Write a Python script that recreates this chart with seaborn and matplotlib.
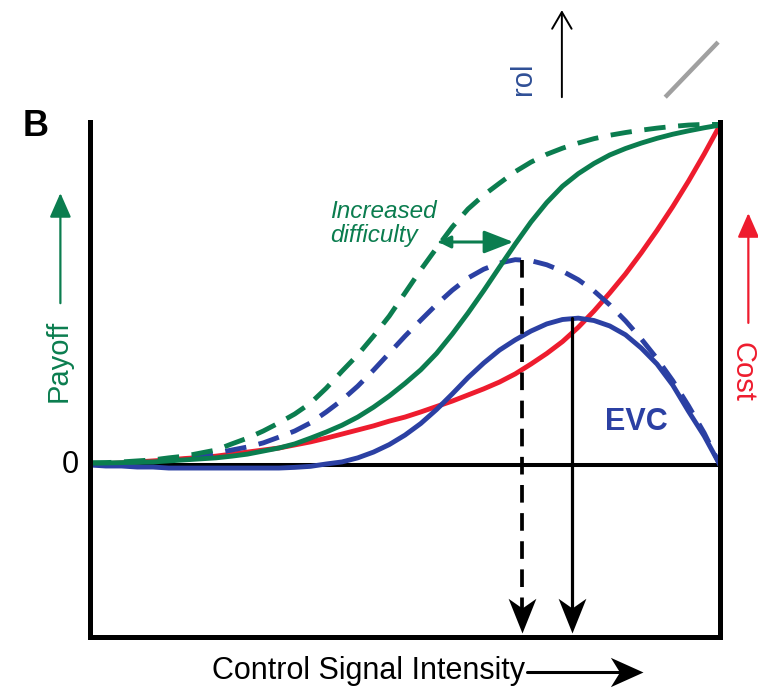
import numpy as np
import pandas as pd
import matplotlib
matplotlib.use("Agg")
import matplotlib.pyplot as plt
import seaborn as sns
from matplotlib.path import Path

# ---------------- data ----------------
control = [0.000, 0.025, 0.050, 0.075, 0.100, 0.125, 0.150, 0.175, 0.200, 0.225,
           0.250, 0.275, 0.300, 0.325, 0.350, 0.375, 0.400, 0.425, 0.450, 0.475,
           0.500, 0.525, 0.550, 0.575, 0.600, 0.625, 0.650, 0.675, 0.700, 0.725,
           0.750, 0.775, 0.800, 0.825, 0.850, 0.875, 0.900, 0.925, 0.950, 0.975, 1.000]
payoff_easy = [0.006, 0.007, 0.009, 0.012, 0.015, 0.021, 0.026, 0.035, 0.044, 0.062,
               0.079, 0.100, 0.124, 0.150, 0.182, 0.226, 0.276, 0.324, 0.379, 0.438,
               0.506, 0.574, 0.638, 0.700, 0.753, 0.794, 0.829, 0.863, 0.891, 0.914,
               0.932, 0.947, 0.960, 0.970, 0.978, 0.985, 0.991, 0.996, 1.000, 1.002, 1.003]
payoff_hard = [0.006, 0.006, 0.007, 0.008, 0.009, 0.012, 0.015, 0.018, 0.021, 0.026,
               0.032, 0.041, 0.050, 0.062, 0.079, 0.097, 0.117, 0.141, 0.170, 0.203,
               0.240, 0.280, 0.328, 0.385, 0.447, 0.513, 0.582, 0.650, 0.715, 0.772,
               0.820, 0.857, 0.887, 0.912, 0.931, 0.947, 0.961, 0.973, 0.983, 0.992, 1.000]
cost = [0.003, 0.004, 0.006, 0.009, 0.012, 0.015, 0.019, 0.022, 0.026, 0.032,
        0.038, 0.044, 0.050, 0.059, 0.068, 0.079, 0.091, 0.103, 0.115, 0.129,
        0.141, 0.156, 0.172, 0.188, 0.206, 0.224, 0.244, 0.268, 0.297, 0.328,
        0.363, 0.405, 0.453, 0.506, 0.562, 0.624, 0.690, 0.760, 0.835, 0.915, 1.000]
evc_easy = [0.003, 0.004, 0.006, 0.009, 0.012, 0.015, 0.021, 0.026, 0.035, 0.044,
            0.053, 0.065, 0.082, 0.100, 0.124, 0.156, 0.191, 0.232, 0.279, 0.329,
            0.379, 0.426, 0.472, 0.514, 0.550, 0.576, 0.594, 0.604, 0.601, 0.589,
            0.570, 0.545, 0.512, 0.471, 0.424, 0.371, 0.313, 0.248, 0.174, 0.094, 0.000]
evc_hard = [0.000, -0.003, -0.003, -0.006, -0.006, -0.009, -0.009, -0.009, -0.009, -0.009,
            -0.009, -0.009, -0.009, -0.007, -0.004, 0.003, 0.009, 0.021, 0.038, 0.060,
            0.088, 0.122, 0.163, 0.209, 0.257, 0.300, 0.338, 0.368, 0.394, 0.415,
            0.428, 0.432, 0.425, 0.409, 0.383, 0.344, 0.297, 0.235, 0.158, 0.085, 0.000]
optimum_x = [0.686, 0.765]      # easy task, hard task
optimum_evc = [0.604, 0.432]

curve_names = ["Cost", "EVC (easy)", "EVC (hard)", "Payoff (easy)", "Payoff (hard)"]
curve_values = [cost, evc_easy, evc_hard, payoff_easy, payoff_hard]

GREEN = "#0b7d4f"
BLUE = "#2b40a3"
RED = "#ee1c2e"

# ---------------- style ----------------
sns.set_style("white")
plt.rcParams["font.family"] = ["Liberation Sans", "DejaVu Sans"]
plt.rcParams["text.color"] = "black"

fig = plt.figure(figsize=(7.58, 6.89), dpi=100)
ax = fig.add_axes([90 / 758, 1 - 637 / 689, 630 / 758, 515 / 689])
ax.set_xlim(0, 1)
ax.set_ylim(-0.506, 1.009)

df = pd.concat([pd.DataFrame({"control": control, "value": v, "curve": n})
                for n, v in zip(curve_names, curve_values)], ignore_index=True)

palette = {"Cost": RED, "EVC (easy)": BLUE, "EVC (hard)": BLUE,
           "Payoff (easy)": GREEN, "Payoff (hard)": GREEN}
dashes = {"Cost": "", "EVC (easy)": (4.4, 2.6), "EVC (hard)": "",
          "Payoff (easy)": (4.4, 2.6), "Payoff (hard)": ""}

sns.lineplot(data=df, x="control", y="value", hue="curve", style="curve",
             hue_order=curve_names, style_order=curve_names,
             palette=palette, dashes=dashes, linewidth=3.5, legend=False,
             sort=False, estimator=None, ax=ax)

# frame
for side in ["left", "right", "bottom"]:
    ax.spines[side].set_linewidth(3.6)
    ax.spines[side].set_color("black")
ax.spines["top"].set_visible(False)
ax.set_xticks([])
ax.set_yticks([])
ax.set_xlabel("")
ax.set_ylabel("")
ax.axhline(0, color="black", lw=2.9, zorder=1)

# optimal control arrows
head_down = Path([(0, 0), (-0.4, 1), (0, 0.72), (0.4, 1), (0, 0)],
                 [Path.MOVETO, Path.LINETO, Path.LINETO, Path.LINETO, Path.CLOSEPOLY])
tip_y = -0.494
line_end = -0.44
ax.plot([optimum_x[0], optimum_x[0]], [optimum_evc[0], line_end], color="black",
        lw=2.7, dashes=(4.7, 2.8), zorder=4)
ax.plot([optimum_x[1], optimum_x[1]], [optimum_evc[1], line_end], color="black",
        lw=2.3, zorder=4)
ax.plot(optimum_x, [tip_y, tip_y], ls="none", marker=head_down, ms=50,
        color="black", markeredgewidth=0, zorder=5)

# texts
ax.text(0.867, 0.126, "EVC", color=BLUE, fontsize=22, fontweight="bold",
        ha="center", va="center")
ax.text(0.381, 0.71, "Increased\ndifficulty", color=GREEN, fontsize=17.5,
        fontstyle="italic", ha="left", va="center", linespacing=1.05)
ax.annotate("", xy=(0.672, 0.656), xytext=(0.556, 0.656),
            arrowprops=dict(arrowstyle="-|>,head_length=0.9,head_width=0.35",
                            color=GREEN, lw=2.2, mutation_scale=20,
                            shrinkA=0, shrinkB=0))
ax.annotate("", xy=(0.553, 0.656), xytext=(0.57, 0.656),
            arrowprops=dict(arrowstyle="-|>,head_length=0.6,head_width=0.3",
                            color=GREEN, lw=2.2, mutation_scale=12,
                            shrinkA=0, shrinkB=0))

ax.text(-0.086, 0.997, "B", fontsize=26, fontweight="bold", ha="center",
        va="center", clip_on=False)
ax.text(-0.032, 0.0, "0", fontsize=22, ha="center", va="center", clip_on=False)

ax.text(-0.050, 0.306, "Payoff", color=GREEN, fontsize=21, rotation=90,
        ha="center", va="center", clip_on=False)
ax.annotate("", xy=(-0.047, 0.80), xytext=(-0.047, 0.476),
            arrowprops=dict(arrowstyle="-|>,head_length=0.75,head_width=0.33",
                            color=GREEN, lw=1.6, mutation_scale=20,
                            shrinkA=0, shrinkB=0), annotation_clip=False)

ax.text(1.036, 0.274, "Cost", color=RED, fontsize=21, rotation=270,
        ha="center", va="center", clip_on=False)
ax.annotate("", xy=(1.045, 0.741), xytext=(1.045, 0.418),
            arrowprops=dict(arrowstyle="-|>,head_length=0.75,head_width=0.33",
                            color=RED, lw=1.6, mutation_scale=20,
                            shrinkA=0, shrinkB=0), annotation_clip=False)

ax.text(0.690, -0.607, "Control Signal Intensity", fontsize=22, ha="right",
        va="center", clip_on=False)
head_right = Path([(0, 0), (-1, 0.45), (-0.72, 0), (-1, -0.45), (0, 0)],
                  [Path.MOVETO, Path.LINETO, Path.LINETO, Path.LINETO, Path.CLOSEPOLY])
ax.plot([0.694, 0.86], [-0.609, -0.609], color="black", lw=2.2, clip_on=False)
ax.plot([0.878], [-0.609], ls="none", marker=head_right, ms=47, color="black",
        markeredgewidth=0, clip_on=False)

# remnants of the neighbouring panel at the top
ax.text(0.687, 1.135, "rol", color="#2f4f96", fontsize=21, rotation=90,
        ha="center", va="center", clip_on=False)
ax.annotate("", xy=(0.749, 1.338), xytext=(0.749, 1.082),
            arrowprops=dict(arrowstyle="->,head_length=0.6,head_width=0.35",
                            color="black", lw=1.4, mutation_scale=20,
                            shrinkA=0, shrinkB=0), annotation_clip=False)
ax.plot([0.913, 0.997], [1.082, 1.244], color="#a0a0a0", lw=3.2,
        solid_capstyle="butt", clip_on=False)

fig.savefig("out.png", dpi=100)
